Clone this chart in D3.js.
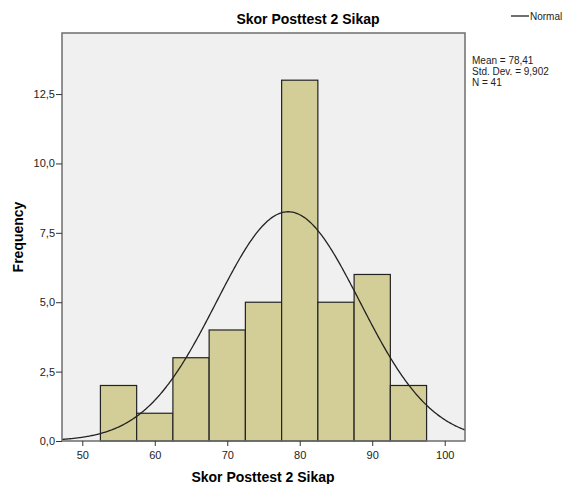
<!DOCTYPE html>
<html><head><meta charset="utf-8">
<script src="https://cdn.jsdelivr.net/npm/d3@7"></script>
<style>body{margin:0;background:#fff}svg{display:block;font-family:Arial,"Liberation Sans",sans-serif}</style>
</head><body><svg id="c" width="563" height="484"></svg>
<script>
const binStarts = [52.5, 57.5, 62.5, 67.5, 72.5, 77.5, 82.5, 87.5, 92.5];
const binWidth = 5;
const counts = [2, 1, 3, 4, 5, 13, 5, 6, 2];
const xTicks = [50, 60, 70, 80, 90, 100];
const yTicks = [0, 2.5, 5, 7.5, 10, 12.5];
const meanVal = [78.41];
const sdVal = [9.902];
const nVal = [41];
const statLabels = ["Mean = 78,41", "Std. Dev. = 9,902", "N = 41"];

const svg = d3.select("#c");
const L = 62, R = 465, T = 33, B = 441;
const x = d3.scaleLinear().domain([47.2, 102.8]).range([L, R]);
const y = d3.scaleLinear().domain([0, 14.7]).range([B, T]);
const fmt = d => d3.format(".1f")(d).replace(".", ",");

svg.append("rect").attr("x", L).attr("y", T).attr("width", R - L).attr("height", B - T)
  .attr("fill", "#f0f0f0");

svg.append("g").selectAll("rect").data(binStarts).join("rect")
  .attr("x", d => x(d)).attr("width", d => x(d + binWidth) - x(d))
  .attr("y", (d, i) => y(counts[i])).attr("height", (d, i) => B - y(counts[i]))
  .attr("fill", "#d3ce97").attr("stroke", "#222").attr("stroke-width", 1.2);

// normal curve from stated mean, sd, N
const m = meanVal[0], s = sdVal[0], n = nVal[0];
const pts = d3.range(0, 401).map(i => {
  const v = 47.2 + (102.8 - 47.2) * i / 400;
  return [v, n * binWidth * Math.exp(-0.5 * ((v - m) / s) ** 2) / (s * Math.sqrt(2 * Math.PI))];
});
svg.append("path").attr("d", d3.line().x(d => x(d[0])).y(d => y(d[1]))(pts))
  .attr("fill", "none").attr("stroke", "#222").attr("stroke-width", 1.3);

svg.append("rect").attr("x", L).attr("y", T).attr("width", R - L).attr("height", B - T)
  .attr("fill", "none").attr("stroke", "#6e6e6e").attr("stroke-width", 1.5);

const xa = svg.append("g").attr("transform", `translate(0,${B})`)
  .call(d3.axisBottom(x).tickValues(xTicks).tickSize(5).tickSizeOuter(0));
xa.select(".domain").remove();
xa.selectAll("line").attr("stroke", "#333");
xa.selectAll("text").attr("font-size", 11).attr("font-family", "Arial, Liberation Sans, sans-serif").attr("fill", "#222").attr("dy", "0.9em");

const ya = svg.append("g").attr("transform", `translate(${L},0)`)
  .call(d3.axisLeft(y).tickValues(yTicks).tickFormat(fmt).tickSize(6).tickSizeOuter(0));
ya.select(".domain").remove();
ya.selectAll("line").attr("stroke", "#333");
ya.selectAll("text").attr("font-size", 11).attr("font-family", "Arial, Liberation Sans, sans-serif").attr("fill", "#222").attr("x", -7);

svg.append("text").attr("x", 308).attr("y", 24).attr("text-anchor", "middle")
  .attr("font-size", 14).attr("font-weight", "bold").text("Skor Posttest 2 Sikap");
svg.append("text").attr("x", 263).attr("y", 482).attr("text-anchor", "middle")
  .attr("font-size", 14).attr("font-weight", "bold").text("Skor Posttest 2 Sikap");
svg.append("text").attr("transform", "translate(23,237) rotate(-90)").attr("text-anchor", "middle")
  .attr("font-size", 14).attr("font-weight", "bold").text("Frequency");

svg.append("line").attr("x1", 511).attr("x2", 529).attr("y1", 16).attr("y2", 16)
  .attr("stroke", "#222").attr("stroke-width", 1.3);
svg.append("text").attr("x", 530).attr("y", 20).attr("font-size", 10).attr("fill", "#222").text("Normal");

svg.append("g").selectAll("text").data(statLabels).join("text")
  .attr("x", 472).attr("y", (d, i) => 64 + i * 11).attr("font-size", 10).attr("fill", "#222").text(d => d);
</script></body></html>
